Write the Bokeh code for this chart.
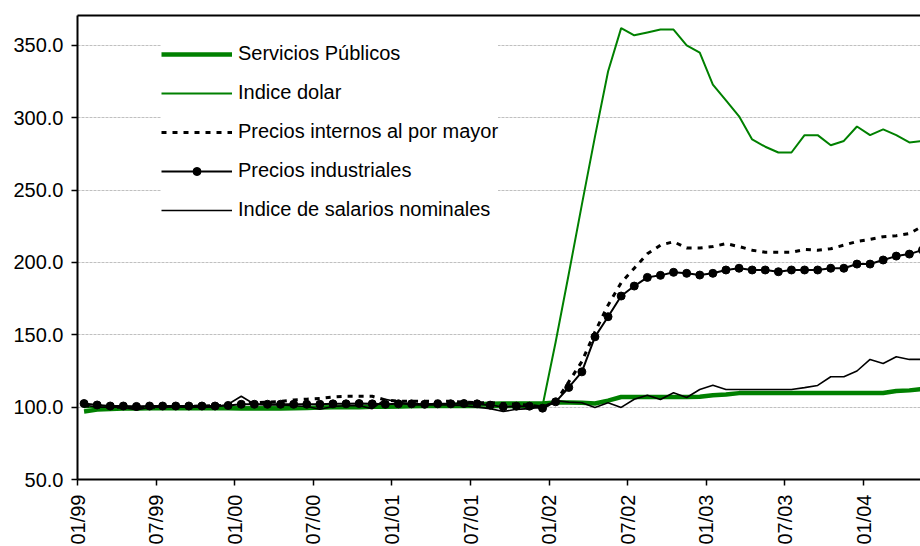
import math
from bokeh.plotting import figure
from bokeh.models import (LinearAxis, FixedTicker, PrintfTickFormatter, Legend,
                          LegendItem, Range1d)
from bokeh.embed import file_html
from bokeh.resources import INLINE

# ---------------- data (monthly, 01/1999 .. 05/2004) ----------------
tick_labels = ["01/99", "07/99", "01/00", "07/00", "01/01", "07/01",
               "01/02", "07/02", "01/03", "07/03", "01/04"]
tick_months = [0, 6, 12, 18, 24, 30, 36, 42, 48, 54, 60]

servicios = [97.0, 98.3, 98.8, 99.0, 99.0, 99.2, 99.2, 99.3, 99.3, 99.3, 99.2, 99.2,
             99.0, 99.0, 99.0, 99.0, 99.3, 99.5, 99.8, 100.0, 100.0, 100.0, 100.2, 100.3,
             100.5, 100.8, 101.0, 101.3, 101.5, 102.0, 102.0, 102.3, 102.5, 102.5, 102.5, 102.5,
             103.3, 103.3, 103.0, 102.5, 104.5, 107.0, 107.0, 107.0, 107.0, 107.0, 107.0, 107.2,
             108.3, 108.8, 109.7, 109.7, 109.7, 109.7, 109.7, 109.7, 109.7, 109.7, 109.7, 109.7,
             109.7, 109.8, 111.2, 111.6, 112.5]

dolar = [100.0, 100.0, 100.0, 100.0, 100.0, 100.0, 100.0, 100.0, 100.0, 100.0, 100.0, 100.0,
         100.0, 100.0, 100.0, 100.0, 100.0, 100.0, 100.0, 100.0, 100.0, 100.0, 100.0, 100.0,
         100.0, 100.0, 100.0, 100.0, 100.0, 100.0, 100.0, 100.0, 100.0, 100.0, 100.0, 101.0,
         145.0, 192.0, 240.0, 287.0, 332.0, 362.0, 357.0, 359.0, 361.0, 361.0, 350.0, 345.0,
         323.0, 312.0, 301.0, 285.0, 280.0, 276.0, 276.0, 288.0, 288.0, 281.0, 284.0, 294.0,
         288.0, 292.0, 288.0, 283.0, 284.0]

precios_internos = [101.0, 100.5, 100.0, 100.0, 100.0, 100.0, 100.0, 100.3, 100.5, 100.8, 101.0, 101.5,
                    102.5, 103.0, 103.5, 104.0, 105.0, 105.5, 106.0, 107.0, 107.5, 107.5, 107.5, 105.0,
                    104.0, 104.0, 104.0, 104.0, 104.0, 103.5, 103.0, 103.0, 102.5, 102.0, 101.5, 100.0,
                    103.5, 117.5, 131.5, 152.0, 170.5, 186.0, 196.0, 206.0, 212.0, 214.3, 210.0, 210.0,
                    211.0, 213.0, 211.0, 208.5, 207.0, 207.0, 207.0, 209.0, 208.5, 209.5, 212.0, 214.5,
                    216.0, 217.8, 218.5, 220.0, 225.0]

precios_industriales = [102.5, 101.5, 100.8, 100.8, 100.5, 100.8, 100.8, 100.8, 100.8, 100.8, 100.8, 101.2,
                        102.0, 102.0, 102.0, 102.0, 102.0, 102.0, 102.0, 102.3, 102.3, 102.5, 102.3, 102.0,
                        102.3, 102.3, 102.0, 102.3, 102.3, 102.5, 102.3, 101.4, 100.2, 100.7, 100.7, 99.3,
                        103.7, 113.6, 124.4, 148.6, 162.5, 176.8, 183.7, 189.7, 191.1, 193.2, 192.5, 191.3,
                        192.5, 194.8, 196.0, 194.8, 194.8, 193.6, 194.8, 194.8, 194.8, 196.0, 196.0, 198.9,
                        198.9, 201.7, 204.4, 205.8, 208.6]

salarios = [101.5, 100.0, 100.0, 100.0, 98.0, 100.0, 100.0, 100.0, 100.0, 100.0, 100.0, 102.0,
            107.5, 102.0, 101.5, 101.5, 101.0, 100.5, 98.5, 100.5, 101.0, 101.0, 99.0, 105.5,
            103.5, 101.5, 101.5, 101.5, 101.5, 101.0, 100.0, 99.0, 97.0, 98.5, 99.0, 100.2,
            104.5, 103.5, 103.0, 99.8, 103.0, 99.8, 105.5, 108.3, 105.3, 109.9, 106.7, 112.2,
            115.2, 112.2, 112.2, 112.2, 112.2, 112.2, 112.2, 113.5, 115.0, 121.0, 121.0, 125.0,
            133.0, 130.2, 134.8, 133.0, 133.0]

# points sit in the middle of each monthly category
x = [i + 0.5 for i in range(len(servicios))]

FONT = "Liberation Sans"
GREEN = "#008000"

p = figure(frame_width=843, frame_height=464, output_backend="svg",
           toolbar_location=None, x_range=Range1d(0, 64.35), y_range=Range1d(50, 370.7),
           min_border_left=77, min_border_right=0, min_border_top=15, min_border_bottom=0,
           background_fill_color="white", border_fill_color="white")
p.outline_line_color = None
p.xgrid.grid_line_color = None
p.ygrid.grid_line_color = "#c0c0c0"
p.ygrid.grid_line_dash = "3 1"
p.ygrid.grid_line_width = 1

# axes
p.yaxis.ticker = FixedTicker(ticks=[50, 100, 150, 200, 250, 300, 350])
p.yaxis.formatter = PrintfTickFormatter(format="%.1f")
p.xaxis.ticker = FixedTicker(ticks=tick_months)
p.xaxis.major_label_overrides = {m: lab for m, lab in zip(tick_months, tick_labels)}
p.xaxis.major_label_orientation = math.pi / 2
for ax in (p.xaxis, p.yaxis):
    ax.axis_line_width = 2
    ax.axis_line_color = "black"
    ax.major_tick_line_color = "black"
    ax.major_tick_line_width = 1.5
    ax.major_tick_in = 0
    ax.major_tick_out = 6
    ax.minor_tick_line_color = None
    ax.major_label_text_font = FONT
    ax.major_label_text_color = "black"
p.yaxis.major_label_text_font_size = "20px"
p.yaxis.major_label_standoff = 8
p.xaxis.major_label_text_font_size = "20px"
p.xaxis.major_label_standoff = 9

top = LinearAxis(ticker=FixedTicker(ticks=[]), axis_line_width=2, axis_line_color="black",
                 major_tick_line_color=None, minor_tick_line_color=None,
                 major_label_text_font_size="0px", major_label_standoff=0,
                 major_tick_out=0, major_tick_in=0)
p.add_layout(top, "above")

# series
r_serv = p.line(x, servicios, line_color=GREEN, line_width=4.5)
r_dol = p.line(x, dolar, line_color=GREEN, line_width=2)
r_pim = p.line(x, precios_internos, line_color="black", line_width=3, line_dash="5 6")
r_pi = p.line(x, precios_industriales, line_color="black", line_width=2)
r_pi_pts = p.scatter(x, precios_industriales, size=8, marker="circle",
                     fill_color="black", line_color="black")
r_sal = p.line(x, salarios, line_color="black", line_width=1.6)

legend = Legend(items=[
    LegendItem(label="Servicios Públicos", renderers=[r_serv]),
    LegendItem(label="Indice dolar", renderers=[r_dol]),
    LegendItem(label="Precios internos al por mayor", renderers=[r_pim]),
    LegendItem(label="Precios industriales", renderers=[r_pi, r_pi_pts]),
    LegendItem(label="Indice de salarios nominales", renderers=[r_sal]),
], location=(84, 258))
legend.glyph_width = 71
legend.glyph_height = 20
legend.label_height = 20
legend.spacing = 16
legend.padding = 18
legend.label_standoff = 6
legend.label_text_font = FONT
legend.label_text_font_size = "20px"
legend.label_text_color = "black"
legend.border_line_color = None
legend.background_fill_color = "white"
legend.background_fill_alpha = 1.0
p.add_layout(legend, "center")

open("out.html", "w").write(file_html(p, INLINE))
